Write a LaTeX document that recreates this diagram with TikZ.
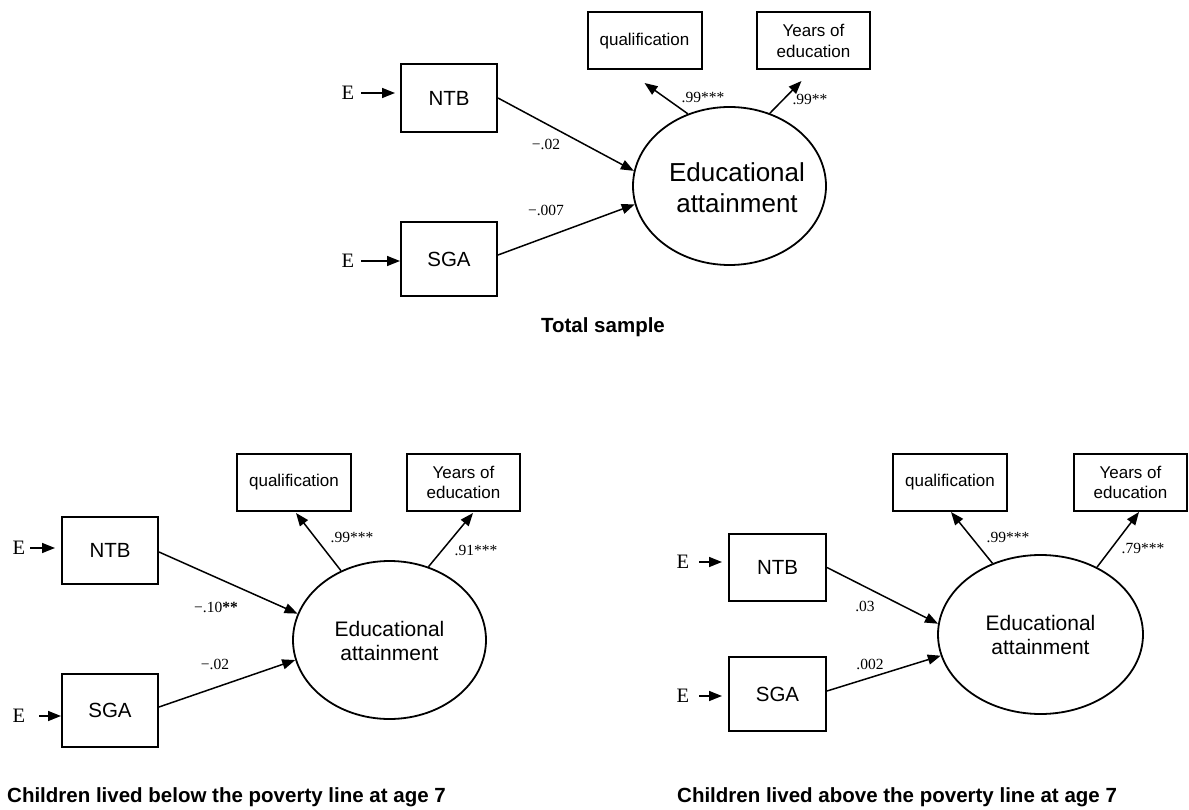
\documentclass[tikz,border=0pt]{standalone}
\usepackage{fontspec}
\setmainfont{Liberation Serif}
\setsansfont{Liberation Sans}
\usetikzlibrary{arrows.meta,calc,shapes.geometric}
\begin{document}
\begin{tikzpicture}[x=1pt,y=-1pt,
  box/.style={draw, line width=2pt, inner sep=0pt, font=\sffamily\fontsize{20.5}{24}\selectfont},
  obox/.style={draw, line width=2pt, inner sep=0pt, minimum width=114pt, minimum height=57pt, align=center, font=\sffamily\fontsize{17}{20.5}\selectfont},
  lat/.style={draw, ellipse, line width=1.8pt, inner sep=0pt},
  lattext/.style={align=center, inner sep=0pt},
  err/.style={font=\rmfamily\fontsize{20.5}{24}\selectfont, inner sep=0pt},
  coef/.style={font=\rmfamily\fontsize{15.5}{18}\selectfont, inner sep=0pt},
  capt/.style={font=\sffamily\bfseries\fontsize{20.5}{24}\selectfont, inner sep=0pt},
  arr/.style={-{Triangle[length=13pt,width=10pt]}, line width=1.5pt},
]
\useasboundingbox (0,0) rectangle (1189,810);

% ---------------- Top panel: total sample ----------------
\node[box, minimum width=96pt, minimum height=68pt] (tNTB) at (449,98) {NTB};
\node[box, minimum width=96pt, minimum height=74pt] (tSGA) at (449,259) {SGA};
\node[obox] (tQ) at (644.5,41) {qualification};
\node[obox, minimum width=113pt] (tY) at (813.5,41) {Years of\\education};
\node[lat, minimum width=193pt, minimum height=158pt] (tEA) at (729.5,186) {};
\node[lattext, font=\sffamily\fontsize{26}{31}\selectfont] (tEAt) at (737,188) {Educational\\attainment};
\node[err] (tE1) at (348,93) {E};
\node[err] (tE2) at (348,261) {E};
\coordinate (tQa) at (644.5,83);
\coordinate (tYa) at (801.5,81);

\draw[arr, shorten <=7pt, shorten >=5pt] (tE1.east) -- (tE1.east -| tNTB.west);
\draw[arr, shorten <=7pt] (tE2.east) -- (tE2.east -| tSGA.west);
\draw[arr] (tNTB.east) -- (tEA.171);
\draw[arr] ([yshift=4pt]tSGA.east) -- (tEA.191);
\draw[arr] (tEA.120) -- (tQa);
\draw[arr] (tEA.61) -- (tYa);

\node[coef] (tc1) at (546,144) {−.02};
\node[coef] (tc2) at (546,210) {−.007};
\node[coef] (tc3) at (703,97) {.99***};
\node[coef] (tc4) at (810,99) {.99**};
\node[capt] (tcap) at (603,327) {Total sample};

% ---------------- Bottom left: below poverty line ----------------
\node[box, minimum width=96pt, minimum height=67pt] (lNTB) at (110,550.5) {NTB};
\node[box, minimum width=96pt, minimum height=73pt] (lSGA) at (110,710.5) {SGA};
\node[obox] (lQ) at (294,482.5) {qualification};
\node[obox, minimum width=113pt] (lY) at (463.5,482.5) {Years of\\education};
\node[lat, minimum width=193pt, minimum height=158pt] (lEA) at (389.5,640) {};
\node[lattext, font=\sffamily\fontsize{21}{24.5}\selectfont] (lEAt) at (389.5,641) {Educational\\attainment};
\node[err] (lE1) at (19,548) {E};
\node[err] (lE2) at (19,716) {E};
\coordinate (lQa) at (296,513);
\coordinate (lYa) at (473,513);

\draw[arr, shorten <=5pt, shorten >=6pt] (lE1.east) -- (lE1.east -| lNTB.west);
\draw[arr, shorten <=14pt] (lE2.east) -- (lE2.east -| lSGA.west);
\draw[arr] ([yshift=-1.5pt]lNTB.east) -- (lEA.164);
\draw[arr] ([yshift=3.5pt]lSGA.east) -- (lEA.192);
\draw[arr] (lEA.125) -- (lQa);
\draw[arr] (lEA.62) -- (lYa);

\node[coef] (lc1) at (352,537) {.99***};
\node[coef] (lc2) at (476,550) {.91***};
\node[coef] (lc3) at (216,607) {−.10\textbf{**}};
\node[coef] (lc4) at (215,664) {−.02};
\node[capt, anchor=west] (lcap) at (7,797) {Children lived below the poverty line at age 7};

% ---------------- Bottom right: above poverty line ----------------
\node[box, minimum width=97pt, minimum height=67pt] (rNTB) at (777.5,567.5) {NTB};
\node[box, minimum width=97pt, minimum height=74pt] (rSGA) at (777.5,694) {SGA};
\node[obox] (rQ) at (950,482.5) {qualification};
\node[obox, minimum width=113pt] (rY) at (1130.5,482.5) {Years of\\education};
\node[lat, minimum width=205pt, minimum height=159pt] (rEA) at (1040.5,634.5) {};
\node[lattext, font=\sffamily\fontsize{21}{24.5}\selectfont] (rEAt) at (1040.5,635) {Educational\\attainment};
\node[err] (rE1) at (683,562) {E};
\node[err] (rE2) at (683,696) {E};
\coordinate (rQa) at (951,512);
\coordinate (rYa) at (1139,512);

\draw[arr, shorten <=10pt, shorten >=6pt] (rE1.east) -- (rE1.east -| rNTB.west);
\draw[arr, shorten <=10pt, shorten >=6pt] (rE2.east) -- (rE2.east -| rSGA.west);
\draw[arr] (rNTB.east) -- (rEA.174);
\draw[arr] ([yshift=3pt]rSGA.east) -- (rEA.192);
\draw[arr] (rEA.124) -- (rQa);
\draw[arr] (rEA.50) -- (rYa);

\node[coef] (rc1) at (1008,537) {.99***};
\node[coef] (rc2) at (1143,548) {.79***};
\node[coef] (rc3) at (865,606) {.03};
\node[coef] (rc4) at (870,664) {.002};
\node[capt, anchor=west] (rcap) at (677,797) {Children lived above the poverty line at age 7};
\end{tikzpicture}
\end{document}
